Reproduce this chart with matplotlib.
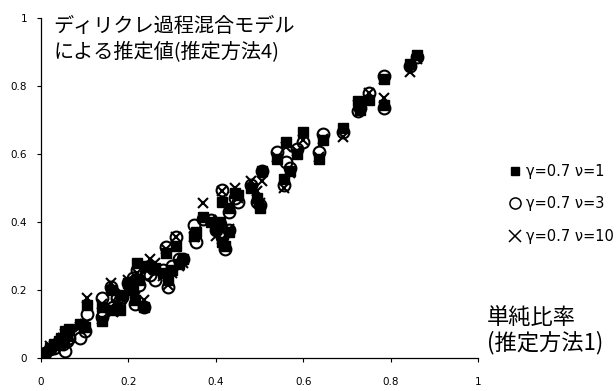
import numpy as np
import matplotlib
matplotlib.use("Agg")
import matplotlib.pyplot as plt
from matplotlib.lines import Line2D

plt.rcParams["font.family"] = ["Noto Sans CJK JP", "DejaVu Sans"]

# simple ratio (estimation method 1), shared by all three series
simple_ratio = [
    0.00, 0.005, 0.01, 0.02, 0.03, 0.04, 0.045, 0.05, 0.055, 0.06,
    0.065, 0.09, 0.10, 0.105, 0.14, 0.14, 0.16, 0.165, 0.175, 0.18,
    0.185, 0.20, 0.21, 0.215, 0.22, 0.225, 0.235, 0.24, 0.25, 0.26,
    0.28, 0.285, 0.29, 0.30, 0.31, 0.315, 0.325, 0.35, 0.355, 0.37,
    0.39, 0.40, 0.41, 0.415, 0.415, 0.42, 0.43, 0.43, 0.445, 0.45,
    0.48, 0.495, 0.50, 0.505, 0.54, 0.555, 0.56, 0.57, 0.585, 0.60,
    0.635, 0.645, 0.69, 0.725, 0.73, 0.75, 0.785, 0.785, 0.845, 0.86,
]

# Dirichlet process mixture estimates (estimation method 4)
est_v1 = [
    0.005, 0.01, 0.005, 0.03, 0.04, 0.05, 0.06, 0.055, 0.08, 0.065,
    0.085, 0.10, 0.09, 0.155, 0.11, 0.15, 0.20, 0.14, 0.145, 0.14,
    0.185, 0.22, 0.20, 0.17, 0.28, 0.23, 0.15, 0.27, 0.27, 0.265,
    0.25, 0.31, 0.23, 0.26, 0.33, 0.275, 0.29, 0.36, 0.37, 0.415,
    0.40, 0.38, 0.40, 0.46, 0.34, 0.33, 0.37, 0.44, 0.485, 0.48,
    0.50, 0.47, 0.44, 0.55, 0.585, 0.525, 0.635, 0.55, 0.60, 0.665,
    0.585, 0.64, 0.675, 0.755, 0.73, 0.76, 0.745, 0.82, 0.865, 0.89,
]
est_v3 = [
    0.01, 0.005, 0.015, 0.025, 0.03, 0.04, 0.045, 0.04, 0.02, 0.05,
    0.06, 0.06, 0.08, 0.13, 0.12, 0.175, 0.21, 0.15, 0.175, 0.17,
    0.18, 0.22, 0.235, 0.16, 0.26, 0.215, 0.15, 0.25, 0.245, 0.23,
    0.26, 0.325, 0.21, 0.27, 0.355, 0.29, 0.29, 0.39, 0.34, 0.41,
    0.405, 0.375, 0.395, 0.495, 0.355, 0.32, 0.375, 0.43, 0.47, 0.46,
    0.51, 0.46, 0.45, 0.55, 0.605, 0.51, 0.575, 0.56, 0.615, 0.635,
    0.605, 0.66, 0.665, 0.725, 0.735, 0.78, 0.735, 0.83, 0.86, 0.885,
]
est_v10 = [
    0.005, 0.01, 0.01, 0.035, 0.035, 0.045, 0.05, 0.06, 0.07, 0.075,
    0.08, 0.09, 0.10, 0.175, 0.115, 0.16, 0.22, 0.135, 0.16, 0.18,
    0.19, 0.23, 0.215, 0.18, 0.25, 0.24, 0.17, 0.26, 0.29, 0.28,
    0.24, 0.32, 0.215, 0.25, 0.355, 0.27, 0.28, 0.355, 0.365, 0.455,
    0.405, 0.36, 0.39, 0.49, 0.35, 0.325, 0.38, 0.445, 0.50, 0.47,
    0.52, 0.49, 0.455, 0.52, 0.59, 0.50, 0.62, 0.545, 0.61, 0.64,
    0.59, 0.645, 0.65, 0.745, 0.74, 0.78, 0.765, 0.82, 0.84, 0.88,
]

labels = ["γ=0.7 ν=1", "γ=0.7 ν=3", "γ=0.7 ν=10"]
ticks = [0, 0.2, 0.4, 0.6, 0.8, 1]
tick_labels = ["0", "0.2", "0.4", "0.6", "0.8", "1"]

fig = plt.figure(figsize=(6.16, 3.91), dpi=100)
ax = fig.add_axes([0.0666, 0.0844, 0.7094, 0.8696])

ax.plot(simple_ratio, est_v1, ls="none", marker="s", ms=7,
        mfc="black", mec="black", label=labels[0])
ax.plot(simple_ratio, est_v3, ls="none", marker="o", ms=8.5,
        mfc="none", mec="black", mew=1.5, label=labels[1])
ax.plot(simple_ratio, est_v10, ls="none", marker="x", ms=7.5,
        mec="black", mew=1.5, label=labels[2])

ax.set_xlim(0, 1)
ax.set_ylim(0, 1)
ax.set_xticks(ticks)
ax.set_xticklabels(tick_labels)
ax.set_yticks(ticks)
ax.set_yticklabels(tick_labels)
ax.tick_params(direction="out", length=3, width=0.8, labelsize=7.5)
ax.tick_params(axis="x", pad=11)
ax.tick_params(axis="y", pad=7)
for label in ax.get_xticklabels() + ax.get_yticklabels():
    label.set_family("DejaVu Sans")
for side in ["top", "right"]:
    ax.spines[side].set_visible(False)
for side in ["left", "bottom"]:
    ax.spines[side].set_linewidth(0.9)

ax.text(0.028, 1.005, "ディリクレ過程混合モデル\nによる推定値(推定方法4)",
        transform=ax.transAxes, fontsize=14.5, va="top", ha="left",
        linespacing=1.22)

fig.text(0.790, 0.155, "単純比率\n(推定方法1)", fontsize=16,
         va="center", ha="left", linespacing=1.12)

handles = [
    Line2D([], [], ls="none", marker="s", ms=6, mfc="black", mec="black"),
    Line2D([], [], ls="none", marker="o", ms=8, mfc="none", mec="black", mew=1.1),
    Line2D([], [], ls="none", marker="x", ms=8, mec="black", mew=1.1),
]
fig.legend(handles, labels, loc="center left", bbox_to_anchor=(0.815, 0.479),
           frameon=False, prop={"family": "DejaVu Sans", "size": 10.5},
           handlelength=0.8, handletextpad=0.35, labelspacing=1.2, borderpad=0)

fig.savefig("out.png", dpi=100)
